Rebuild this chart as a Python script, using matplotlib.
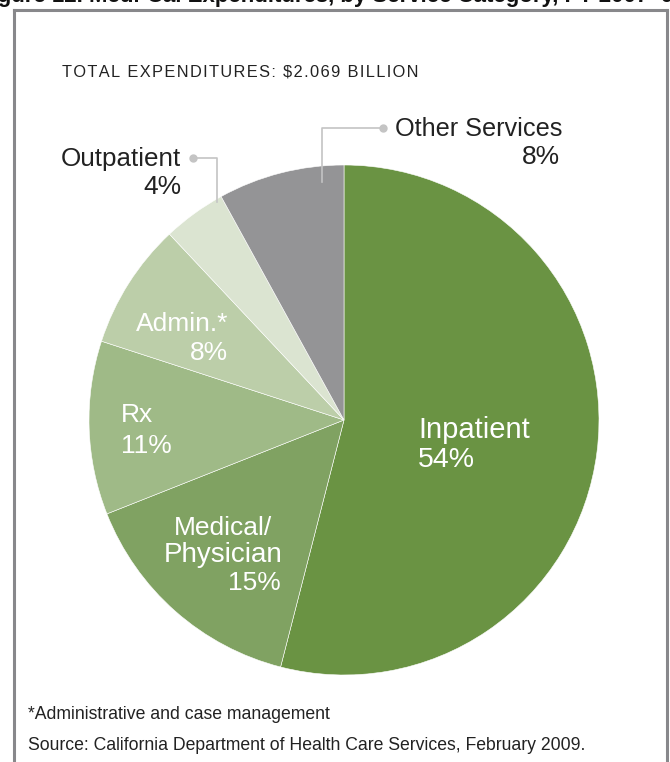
import matplotlib.pyplot as plt
from matplotlib.lines import Line2D

# donnees du graphique
categories = ['Inpatient', 'Medical/\nPhysician', 'Rx', 'Admin.*', 'Outpatient', 'Other Services']
parts = [54, 15, 11, 8, 4, 8]
pct_labels = ['54%', '15%', '11%', '8%', '4%', '8%']
colors = ['#6a9343', '#80a262', '#9fba87', '#bccea9', '#dbe4d1', '#949496']

W, H = 670, 762

plt.rcParams['font.family'] = ['Liberation Sans', 'DejaVu Sans']

fig = plt.figure(figsize=(W / 100, H / 100), dpi=100)


def P(x, y):
    return x / W, 1 - y / H


# cadre gris
for xs, ys in [([14, 14], [10, 770]), ([14, 667], [10, 10]), ([667, 667], [10, 770])]:
    fig.add_artist(Line2D([x / W for x in xs], [1 - y / H for y in ys],
                          color='#88888b', lw=2.2))

# titre coupe en haut
fig.text(*P(-22, 2), 'Figure 12. Medi-Cal Expenditures, by Service Category, FY 2007–08',
         fontsize=16, fontweight='bold', color='#111111', ha='left', va='baseline')

# titre avec un peu d'espacement entre les lettres
total = 'TOTAL EXPENDITURES: $2.069 BILLION'
fig.text(*P(62, 76), '\u200a'.join(total), fontsize=11.8,
         color='#222222', ha='left', va='baseline')

# camembert
cx, cy, r = 344, 420, 255
ax = fig.add_axes([(cx - r) / W, (H - cy - r) / H, 2 * r / W, 2 * r / H])
ax.pie(parts, colors=colors, startangle=90, counterclock=False,
       wedgeprops=dict(edgecolor='white', linewidth=0.4))
ax.set_xlim(-1, 1)
ax.set_ylim(-1, 1)
ax.set_aspect('auto')
ax.axis('off')

fs = 19
white = 'white'
fig.text(*P(418, 438), 'Inpatient', fontsize=21, color=white, ha='left', va='baseline')
fig.text(*P(418, 467), pct_labels[0], fontsize=20.5, color=white, ha='left', va='baseline')

fig.text(*P(223, 535), 'Medical/', fontsize=fs, color=white, ha='center', va='baseline')
fig.text(*P(223, 562), 'Physician', fontsize=20, color=white, ha='center', va='baseline')
fig.text(*P(281, 590), pct_labels[1], fontsize=fs, color=white, ha='right', va='baseline')

fig.text(*P(121, 422), 'Rx', fontsize=fs, color=white, ha='left', va='baseline')
fig.text(*P(121, 453), pct_labels[2], fontsize=fs, color=white, ha='left', va='baseline')

fig.text(*P(228, 331), 'Admin.*', fontsize=fs, color=white, ha='right', va='baseline')
fig.text(*P(228, 360), pct_labels[3], fontsize=fs, color=white, ha='right', va='baseline')

dark = '#222222'
fig.text(*P(181, 166), 'Outpatient', fontsize=18.7, color=dark, ha='right', va='baseline')
fig.text(*P(181, 194), pct_labels[4], fontsize=fs, color=dark, ha='right', va='baseline')

fig.text(*P(395, 136), 'Other Services', fontsize=18.2, color=dark, ha='left', va='baseline')
fig.text(*P(560, 164), pct_labels[5], fontsize=fs, color=dark, ha='right', va='baseline')

# traits de rappel
lc = '#c4c4c4'
fig.add_artist(Line2D([P(193, 0)[0], P(217, 0)[0], P(217, 0)[0]],
                      [P(0, 158)[1], P(0, 158)[1], P(0, 202)[1]], color=lc, lw=1.2))
fig.add_artist(Line2D([P(193, 0)[0]], [P(0, 158)[1]], marker='o', ms=5,
                      color=lc, lw=0))
fig.add_artist(Line2D([P(383, 0)[0], P(322, 0)[0], P(322, 0)[0]],
                      [P(0, 128)[1], P(0, 128)[1], P(0, 182)[1]], color=lc, lw=1.2))
fig.add_artist(Line2D([P(383, 0)[0]], [P(0, 128)[1]], marker='o', ms=5,
                      color=lc, lw=0))

# notes
fig.text(*P(28, 719), '*Administrative and case management', fontsize=12.7,
         color=dark, ha='left', va='baseline')
fig.text(*P(28, 750), 'Source: California Department of Health Care Services, February 2009.',
         fontsize=12.7, color=dark, ha='left', va='baseline')

fig.savefig('out.png', dpi=100, facecolor='white')
plt.close()
